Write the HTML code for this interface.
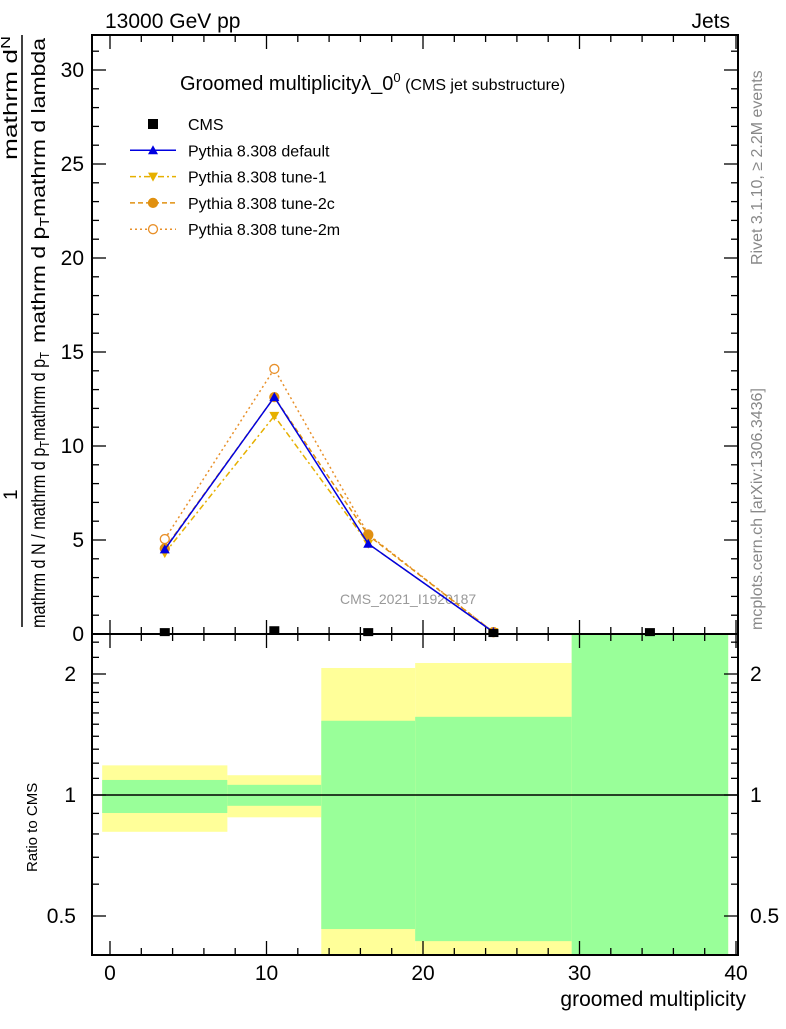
<!DOCTYPE html>
<html><head><meta charset="utf-8"><style>
body{margin:0;background:#fff}
text{font-family:"Liberation Sans",sans-serif}
</style></head><body>
<svg id="c" width="786" height="1024" xmlns="http://www.w3.org/2000/svg">
<text x="105" y="28" font-size="21">13000 GeV pp</text>
<text x="730" y="28" font-size="21" text-anchor="end">Jets</text>
<text x="180" y="90" font-size="20">Groomed multiplicityλ_0<tspan dy="-8" font-size="13">0</tspan><tspan dy="8" font-size="16"> (CMS jet substructure)</tspan></text>
<text x="340" y="604" font-size="14" fill="#999">CMS_2021_I1920187</text>
<g font-size="16" fill="#888">
<text transform="translate(762,265) rotate(-90)">Rivet 3.1.10, ≥ 2.2M events</text>
<text transform="translate(762,630) rotate(-90)">mcplots.cern.ch [arXiv:1306.3436]</text>
</g>
<g font-size="19">
<text transform="translate(17,500) rotate(-90)">1</text>
<line x1="22" y1="627" x2="22" y2="35" stroke="#000" stroke-width="1.5"/>
<text transform="translate(45,628) rotate(-90)" textLength="276" lengthAdjust="spacingAndGlyphs">mathrm d N / mathrm d p<tspan font-size="13" dy="4">T</tspan><tspan dy="-4">mathrm d p</tspan><tspan font-size="13" dy="4">T</tspan></text>
<text transform="translate(17,160) rotate(-90)" textLength="124" lengthAdjust="spacingAndGlyphs">mathrm d<tspan font-size="13" dy="-7">N</tspan></text>
<text transform="translate(45,343) rotate(-90)" textLength="305" lengthAdjust="spacingAndGlyphs">mathrm d p<tspan font-size="13" dy="4">T</tspan><tspan dy="-4">mathrm d lambda</tspan></text>
</g>
<text transform="translate(37,872) rotate(-90)" font-size="15">Ratio to CMS</text>
<text x="746" y="1006" font-size="21" text-anchor="end">groomed multiplicity</text>
<g id="g"></g>
</svg>
<script>
const binEdges=[-0.5,7.5,13.5,19.5,29.5,39.5];
const binCenters=[3.5,10.5,16.5,24.5,34.5];
const cmsValues=[0.1,0.2,0.1,0.05,0.1];
const mcDefault=[4.5,12.6,4.8,0.1];
const mcTune1=[4.3,11.6,4.8,0.1];
const mcTune2c=[4.55,12.6,5.25,0.1];
const mcTune2m=[5.05,14.1,5.3,0.1];
const bandYellowHi=[1.185,1.12,2.07,2.13,3];
const bandGreenHi=[1.09,1.06,1.53,1.565,3];
const bandGreenLo=[0.902,0.94,0.464,0.433,0.3];
const bandYellowLo=[0.81,0.88,0.3,0.3,0.3];
const mainYTicks=[0,5,10,15,20,25,30];
const xTicks=[0,10,20,30,40];
const ratioTicks=[0.5,1,2];

const NS="http://www.w3.org/2000/svg",G=document.getElementById('g');
const L=92,R=738,T=35,MB=634,RB=955;
const X=v=>110+(v)*15.65;
const Y=v=>MB-v*18.8;
const RY=v=>795-Math.log2(v)*121;
function el(t,a,p){const e=document.createElementNS(NS,t);for(const k in a)e.setAttribute(k,a[k]);(p||G).appendChild(e);return e;}
for(let i=0;i<5;i++){
 const x1=X(binEdges[i]),x2=X(binEdges[i+1]);
 const clip=v=>Math.max(MB,Math.min(RB,RY(v)));
 let r=el('rect',{x:x1,y:clip(bandYellowHi[i]),width:x2-x1,height:clip(bandYellowLo[i])-clip(bandYellowHi[i]),fill:'#ffff99'});
 
 
 r=el('rect',{x:x1,y:clip(bandGreenHi[i]),width:x2-x1,height:clip(bandGreenLo[i])-clip(bandGreenHi[i]),fill:'#99ff99'});
 
 
}
let ln=el('line',{x1:L,x2:R,y1:RY(1),y2:RY(1),stroke:'#000','stroke-width':1.5});


el('rect',{x:L,y:T,width:R-L,height:MB-T,fill:'none',stroke:'#000','stroke-width':2});
el('rect',{x:L,y:MB,width:R-L,height:RB-MB,fill:'none',stroke:'#000','stroke-width':2});
for(let v=0;v<=40;v+=2){const big=v%10==0,len=big?14:7;
 [[MB,-1],[MB,1],[T,1],[RB,-1]].forEach(([y,d])=>el('line',{x1:X(v),x2:X(v),y1:y,y2:y+d*len,stroke:'#000','stroke-width':1.3}));}
xTicks.forEach(v=>{const t=el('text',{x:X(v),y:980,'font-size':21,'text-anchor':'middle'});t.textContent=v;
 
 });
for(let v=0;v<=31;v++){if(Y(v)<T)break;const len=v%5==0?14:7;
 el('line',{x1:L,x2:L+len,y1:Y(v),y2:Y(v),stroke:'#000','stroke-width':1.3});
 el('line',{x1:R,x2:R-len,y1:Y(v),y2:Y(v),stroke:'#000','stroke-width':1.3});}
mainYTicks.forEach(v=>{const t=el('text',{x:84,y:Y(v)+7,'font-size':21,'text-anchor':'end'});t.textContent=v;
 
 });
[0.4,0.5,0.6,0.7,0.8,0.9,1,1.1,1.2,1.3,1.4,1.5,1.6,1.7,1.8,1.9,2,2.2,2.4].forEach(v=>{const y=RY(v);if(y<MB||y>RB)return;
 const len=ratioTicks.includes(v)?14:7;
 el('line',{x1:L,x2:L+len,y1:y,y2:y,stroke:'#000','stroke-width':1.3});
 el('line',{x1:R,x2:R-len,y1:y,y2:y,stroke:'#000','stroke-width':1.3});});
ratioTicks.forEach(v=>{[[76,'end'],[750,'start']].forEach(([x,a])=>{const t=el('text',{x:x,y:RY(v)+7,'font-size':21,'text-anchor':a});t.textContent=v;
 
 });});
function series(vals,color,dash,marker,name,w){
 const pts=vals.map((v,i)=>X(binCenters[i])+','+Y(v)).join(' ');
 const p=el('polyline',{points:pts,fill:'none',stroke:color,'stroke-width':w||1.5,'stroke-dasharray':dash});
 
 
 vals.forEach((v,i)=>{const m=marker(X(binCenters[i]),Y(v));
  
  });
}
const tri=(c,up)=>(x,y)=>el('polygon',{points:up?`${x-5},${y+4} ${x+5},${y+4} ${x},${y-5}`:`${x-5},${y-4} ${x+5},${y-4} ${x},${y+5}`,fill:c});
const dot=(c,f)=>(x,y)=>el('circle',{cx:x,cy:y,r:4.5,fill:f?c:'#fff',stroke:c,'stroke-width':1.3});
series(mcTune2m,'#e8902a','2,3',dot('#e8902a',false),'tune-2m');
series(mcTune1,'#e6b000','6,3,2,3',tri('#e6b000',false),'tune-1');
series(mcTune2c,'#e09010','5,3',dot('#e09010',true),'tune-2c');
series(mcDefault,'#0000e0','',tri('#0000e0',true),'default');
cmsValues.forEach((v,i)=>{const r=el('rect',{x:X(binCenters[i])-5,y:Y(v)-4,width:10,height:8,fill:'#000'});
 
 });
const leg=[['CMS','#000','',(x,y)=>el('rect',{x:x-5,y:y-5,width:10,height:10,fill:'#000'}),false],
['Pythia 8.308 default','#0000e0','',tri('#0000e0',true),true],
['Pythia 8.308 tune-1','#e6b000','6,3,2,3',tri('#e6b000',false),true],
['Pythia 8.308 tune-2c','#e09010','5,3',dot('#e09010',true),true],
['Pythia 8.308 tune-2m','#e8902a','2,3',dot('#e8902a',false),true]];
leg.forEach((l,i)=>{const y=124+i*26.3;
 if(l[4])el('line',{x1:130,x2:176,y1:y,y2:y,stroke:l[1],'stroke-width':1.5,'stroke-dasharray':l[2]});
 l[3](153,y);
 const t=el('text',{x:188,y:y+6,'font-size':16});t.textContent=l[0];
 
 });
</script>
</body></html>
